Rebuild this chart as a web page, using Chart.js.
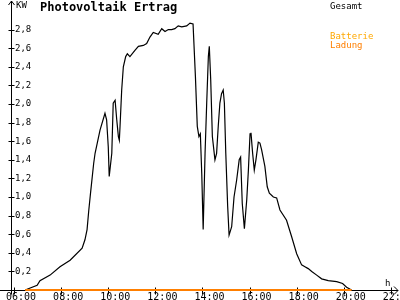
<!DOCTYPE html>
<html>
<head>
<meta charset="utf-8">
<script src="https://cdn.jsdelivr.net/npm/chart.js@4/dist/chart.umd.min.js"></script>
<style>
  html, body { margin: 0; padding: 0; background: #fff; }
  #wrap { width: 400px; height: 300px; }
</style>
</head>
<body>
<div id="wrap"><canvas id="pv"></canvas></div>
<script>
// Uhrzeit in Stunden und Gesamtleistung in kW
var zeit = [6.47, 6.98, 7.10, 7.53, 7.95, 8.38, 8.89, 9.01, 9.10, 9.17, 9.25, 9.38, 9.44, 9.65, 9.86, 9.93,
  10.00, 10.04, 10.15, 10.21, 10.29, 10.36, 10.43, 10.47, 10.50, 10.57, 10.64, 10.74, 10.81, 10.92,
  11.14, 11.28, 11.49, 11.63, 11.77, 11.91, 12.12, 12.27, 12.41, 12.55, 12.69, 12.83, 12.97, 13.12,
  13.33, 13.47, 13.60, 13.70, 13.78, 13.85, 13.91, 13.97, 14.03, 14.11, 14.18, 14.25, 14.29, 14.35,
  14.42, 14.53, 14.60, 14.67, 14.74, 14.81, 14.88, 14.93, 14.99, 15.07, 15.13, 15.24, 15.34, 15.45,
  15.56, 15.62, 15.69, 15.78, 15.88, 15.95, 16.02, 16.06, 16.13, 16.20, 16.27, 16.37, 16.44, 16.51,
  16.65, 16.75, 16.84, 17.01, 17.15, 17.29, 17.57, 17.79, 18.00, 18.21, 18.35, 18.49, 18.64, 18.85,
  19.06, 19.34, 19.70, 19.95, 20.12, 20.33];
var gesamt = [0.00, 0.05, 0.10, 0.16, 0.25, 0.32, 0.45, 0.54, 0.65, 0.85, 1.05, 1.36, 1.47, 1.72, 1.90, 1.83,
  1.54, 1.22, 1.47, 2.01, 2.04, 1.83, 1.65, 1.61, 1.76, 2.15, 2.40, 2.51, 2.54, 2.51,
  2.58, 2.62, 2.63, 2.65, 2.72, 2.77, 2.75, 2.81, 2.78, 2.80, 2.80, 2.81, 2.84, 2.83,
  2.84, 2.87, 2.86, 2.30, 1.76, 1.65, 1.68, 1.25, 0.65, 1.47, 2.01, 2.51, 2.62, 2.26,
  1.65, 1.40, 1.47, 1.76, 2.01, 2.11, 2.15, 2.01, 1.47, 0.90, 0.59, 0.68, 1.00, 1.18,
  1.40, 1.43, 0.93, 0.66, 0.97, 1.29, 1.68, 1.69, 1.47, 1.29, 1.40, 1.59, 1.58, 1.51,
  1.33, 1.11, 1.04, 1.00, 0.99, 0.86, 0.75, 0.57, 0.39, 0.27, 0.25, 0.23, 0.20, 0.16,
  0.12, 0.10, 0.09, 0.07, 0.03, 0.00];

// Batterie (keine Werte) und Ladung
var zeitBatterie = [];
var batterie = [];
var zeitLadung = [6.47, 20.33];
var ladung = [0, 0];

// Achsenbeschriftung
var stundenTicks = [6, 8, 10, 12, 14, 16, 18, 20, 22];
var stundenLabels = ['06:00', '08:00', '10:00', '12:00', '14:00', '16:00', '18:00', '20:00', '22:00'];
var kwTicks = [0.2, 0.4, 0.6, 0.8, 1.0, 1.2, 1.4, 1.6, 1.8, 2.0, 2.2, 2.4, 2.6, 2.8];
var kwLabels = ['0,2', '0,4', '0,6', '0,8', '1,0', '1,2', '1,4', '1,6', '1,8', '2,0', '2,2', '2,4', '2,6', '2,8'];

function points(xs, ys) {
  return xs.map(function (x, i) { return { x: x, y: ys[i] }; });
}

function noPadding(scale) {
  scale.paddingLeft = 0;
  scale.paddingRight = 0;
  scale.paddingTop = 0;
  scale.paddingBottom = 0;
}

var MONO = '"DejaVu Sans Mono", monospace';

// Achsen mit Pfeilen und Kreuz-Ticks, wie im Original
var axesPlugin = {
  id: 'pvAxes',
  beforeDatasetsDraw: function (chart) {
    var ctx = chart.ctx;
    var xs = chart.scales.x, ys = chart.scales.y;
    var x0 = Math.round(xs.left) + 0.5;
    var y0 = Math.round(ys.getPixelForValue(0)) + 0.5;
    ctx.save();
    ctx.strokeStyle = '#000';
    ctx.lineWidth = 1;
    ctx.beginPath();
    // x axis
    ctx.moveTo(0, y0);
    ctx.lineTo(chart.width - 2, y0);
    ctx.moveTo(chart.width - 6, y0 - 4);
    ctx.lineTo(chart.width - 2, y0);
    ctx.lineTo(chart.width - 6, y0 + 4);
    // y axis
    ctx.moveTo(x0, y0 + 4);
    ctx.lineTo(x0, 1);
    ctx.moveTo(x0 - 3, 5);
    ctx.lineTo(x0, 1);
    ctx.lineTo(x0 + 3, 5);
    xs.ticks.forEach(function (t) {
      var px = Math.round(xs.getPixelForValue(t.value)) + 0.5;
      ctx.moveTo(px, y0 - 3);
      ctx.lineTo(px, y0 + 4);
    });
    ys.ticks.forEach(function (t) {
      var py = Math.round(ys.getPixelForValue(t.value)) + 0.5;
      ctx.moveTo(x0 - 3, py);
      ctx.lineTo(x0 + 3, py);
    });
    ctx.stroke();
    ctx.restore();
  },
  afterDraw: function (chart) {
    var ctx = chart.ctx;
    var xs = chart.scales.x;
    ctx.save();
    ctx.textBaseline = 'top';
    ctx.textAlign = 'left';
    ctx.fillStyle = '#000';
    ctx.font = 'bold 12px ' + MONO;
    ctx.fillText('Photovoltaik Ertrag', 40, 2);
    ctx.font = '9px ' + MONO;
    ctx.fillText('KW', xs.left + 5, 1);
    ctx.fillText('h', chart.width - 15, 279);
    // Legende
    var ds = chart.data.datasets;
    var rows = [2, 32, 41];
    ds.forEach(function (d, i) {
      ctx.fillStyle = d.borderColor;
      ctx.fillText(d.label, 330, rows[i]);
    });
    ctx.restore();
  }
};

new Chart(document.getElementById('pv'), {
  type: 'line',
  data: {
    datasets: [
      {
        label: 'Gesamt',
        data: points(zeit, gesamt),
        borderColor: '#000000',
        borderWidth: 1.2,
        pointRadius: 0,
        tension: 0,
        clip: 4,
        order: 1
      },
      {
        label: 'Batterie',
        data: points(zeitBatterie, batterie),
        borderColor: '#ffa800',
        borderWidth: 2,
        pointRadius: 0,
        clip: 4,
        order: 2
      },
      {
        label: 'Ladung',
        data: points(zeitLadung, ladung),
        borderColor: '#ff7f00',
        borderWidth: 2,
        pointRadius: 0,
        clip: 4,
        order: 0
      }
    ]
  },
  options: {
    responsive: true,
    maintainAspectRatio: false,
    animation: false,
    events: [],
    layout: { padding: { top: 11, right: 3, left: 0, bottom: 0 } },
    plugins: {
      legend: { display: false },
      tooltip: { enabled: false },
      title: { display: false }
    },
    scales: {
      x: {
        type: 'linear',
        min: 5.87,
        max: 22.26,
        grid: { display: false },
        border: { display: false },
        ticks: {
          autoSkip: false,
          maxRotation: 0,
          padding: -7,
          labelOffset: 7,
          color: '#000',
          font: { family: MONO, size: 10 },
          callback: function (v) {
            var i = stundenTicks.indexOf(v);
            return i < 0 ? '' : stundenLabels[i];
          }
        },
        afterBuildTicks: function (s) {
          s.ticks = stundenTicks.map(function (v) { return { value: v }; });
        },
        afterFit: function (s) {
          s.height = 10;
          noPadding(s);
        }
      },
      y: {
        type: 'linear',
        min: 0,
        max: 3.0,
        grid: { display: false },
        border: { display: false },
        ticks: {
          mirror: true,
          padding: 4,
          color: '#000',
          font: { family: MONO, size: 9 },
          callback: function (v) {
            var i = kwTicks.findIndex(function (k) { return Math.abs(k - v) < 1e-6; });
            return i < 0 ? '' : kwLabels[i];
          }
        },
        afterBuildTicks: function (s) {
          s.ticks = kwTicks.map(function (v) { return { value: v }; });
        },
        afterFit: function (s) {
          s.width = 11;
          noPadding(s);
        }
      }
    }
  },
  plugins: [axesPlugin]
});
</script>
</body>
</html>
